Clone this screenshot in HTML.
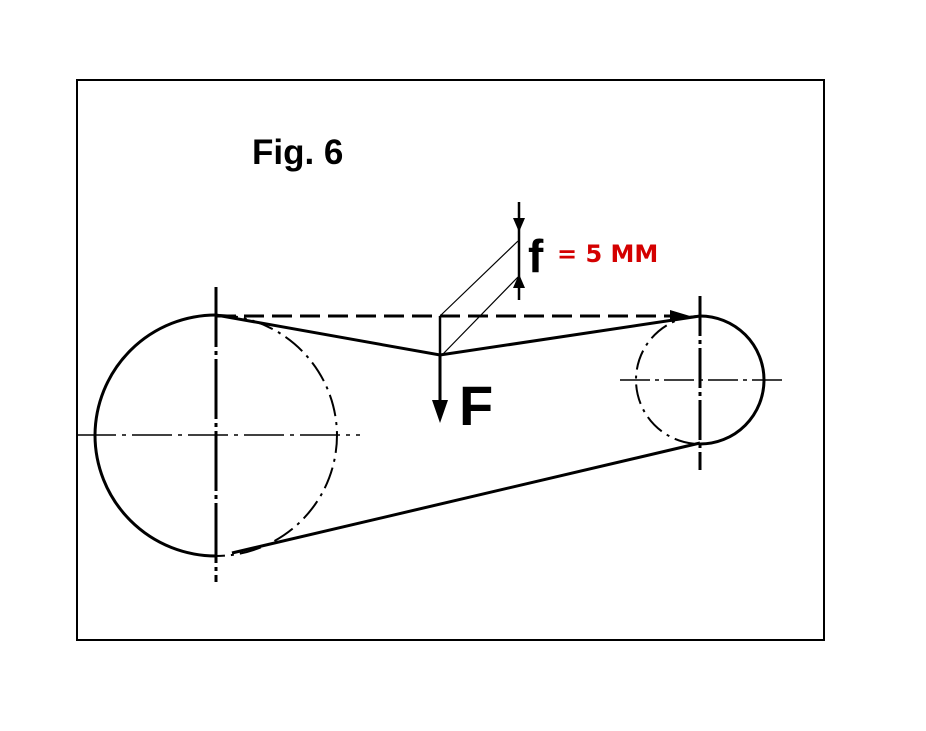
<!DOCTYPE html>
<html><head><style>
html,body{margin:0;padding:0;background:#fff;}
svg{display:block;}
</style></head><body>
<svg width="926" height="731" viewBox="0 0 926 731" xmlns="http://www.w3.org/2000/svg">
<rect x="77" y="80" width="747" height="560" fill="#fff" stroke="#000" stroke-width="2"/>
<text x="252" y="164" font-family="Liberation Sans, sans-serif" font-weight="bold" font-size="35">Fig. 6</text>
<g fill="none" stroke="#000">
<!-- big pulley -->
<path d="M216 315 A121 121 0 0 0 95 435 A121 121 0 0 0 216 556" stroke-width="3"/>
<path d="M216 315 A121 121 0 0 1 337 435 A121 121 0 0 1 216 556" stroke-width="2" stroke-dasharray="22 6 3 6"/>
<line x1="216" y1="287" x2="216" y2="582" stroke-width="3" stroke-dasharray="60 4 4 4"/>
<line x1="76" y1="435" x2="360" y2="435" stroke-width="1.5" stroke-dasharray="40 6 4 6"/>
<!-- small pulley -->
<path d="M700 316 A64 64 0 0 1 764 380 A64 64 0 0 1 700 444" stroke-width="3"/>
<path d="M700 316 A64 64 0 0 0 636 380 A64 64 0 0 0 700 444" stroke-width="2" stroke-dasharray="20 6 3 6"/>
<line x1="700" y1="296" x2="700" y2="470" stroke-width="3" stroke-dasharray="40 4 4 4"/>
<line x1="620" y1="380" x2="787" y2="380" stroke-width="1.5" stroke-dasharray="30 5 4 5"/>
<!-- belt -->
<polyline points="216,315 440,355 700,316" stroke-width="3"/>
<line x1="232" y1="553" x2="700" y2="443" stroke-width="3"/>
<line x1="216" y1="316" x2="670" y2="316" stroke-width="3" stroke-dasharray="20 8"/>
<!-- parallelogram -->
<line x1="440" y1="316" x2="440" y2="355" stroke-width="2.5"/>
<line x1="440" y1="316" x2="518" y2="241" stroke-width="1.2"/>
<line x1="442" y1="355" x2="518" y2="277" stroke-width="1.2"/>
<line x1="440" y1="355" x2="440" y2="405" stroke-width="3"/>
<!-- f dimension -->
<line x1="519" y1="202" x2="519" y2="300" stroke-width="2.5"/>
</g>
<polygon points="670,310 690,316 670,322" fill="#000"/>
<polygon points="432,400 448,400 440,423" fill="#000"/>
<polygon points="513,218 525,218 519,232" fill="#000"/>
<polygon points="513,288 525,288 519,274" fill="#000"/>
<text x="528" y="272" font-family="Liberation Sans, sans-serif" font-weight="bold" font-size="46">f</text>
<text x="557" y="262" font-family="DejaVu Sans, sans-serif" font-weight="bold" font-size="24" fill="#d40000">= 5 MM</text>
<text x="459" y="425" font-family="Liberation Sans, sans-serif" font-weight="bold" font-size="56">F</text>
</svg>
</body></html>
